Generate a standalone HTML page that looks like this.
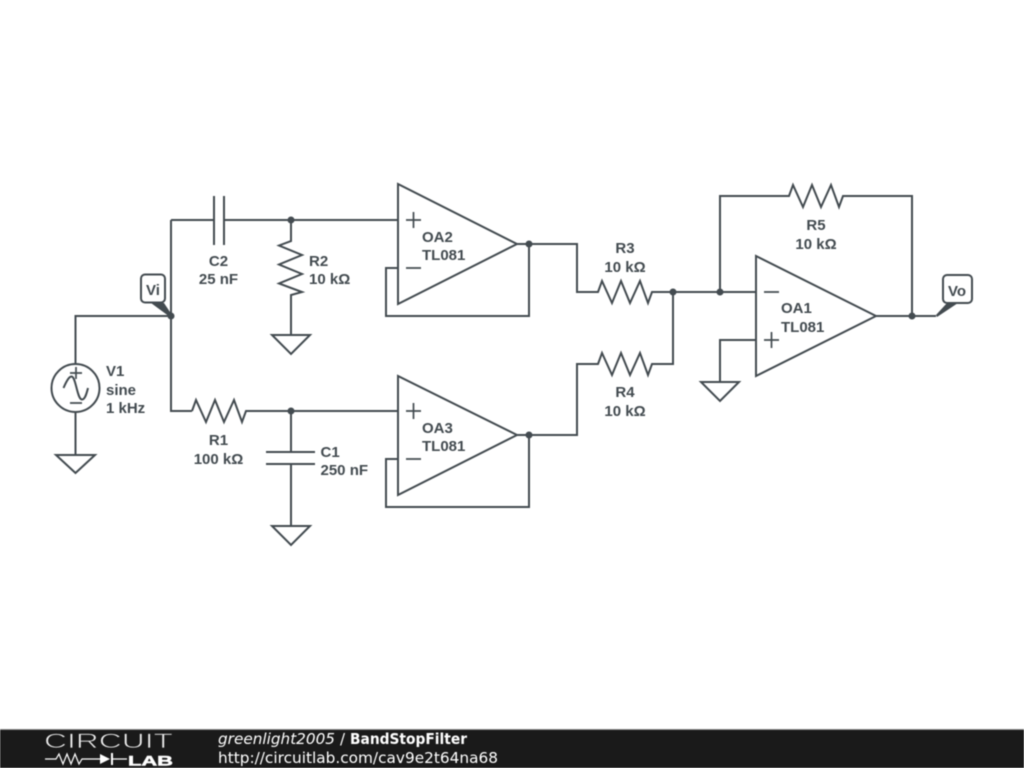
<!DOCTYPE html>
<html>
<head>
<meta charset="utf-8">
<style>
html,body{margin:0;padding:0;background:#fff;width:1024px;height:768px;overflow:hidden}
svg{display:block;filter:blur(.4px)}
.w{fill:none;stroke:#434b50;stroke-width:2;stroke-linejoin:miter}
.s{stroke-width:1.7}
.t{font-family:"Liberation Sans",sans-serif;font-size:15px;font-weight:bold;fill:#434b50}
.m{text-anchor:middle}
.d{fill:#434b50}
.f{font-family:"DejaVu Sans",sans-serif;font-size:15px;fill:#fff}
</style>
</head>
<body>
<svg width="1024" height="768" viewBox="0 0 1024 768" xmlns="http://www.w3.org/2000/svg">
<rect width="1024" height="768" fill="#fff"/>
<g class="w">
<!-- V1 -->
<circle cx="75.5" cy="388" r="24"/>
<path d="M75.5 364V316H171M75.5 412V455"/>
<path d="M56 455H95L75.5 473Z"/>
<path class="s" d="M70 373H82M76 367V379M70 403H82"/>
<path d="M63.500 388C66.500 381 69 376.500 71.500 376.500C76 376.500 77 399.500 82 399.500C85 399.500 86.500 394 88 388"/>
<!-- input bus -->
<path d="M171 220V411H192"/>
<path d="M171 220H214M224 220H398"/>
<path d="M214 196V245M224 196V245"/>
<!-- R2 -->
<path d="M291 220V241L279 245.500L302 255L279 264.500L302 274L279 283.500L302 292L291 295V335"/>
<path d="M272 335H310L291 354Z"/>
<!-- R1 -->
<path d="M192 411L196 400L206 422L215 400L224 422L234 400L242 422L246 411H398"/>
<!-- C1 -->
<path d="M291 411V452M266 452H315M266 464H315M291 464V526"/>
<path d="M272 526H310L291 545Z"/>
<!-- OA2 -->
<path d="M398 184V304L517 244Z"/>
<path class="s" d="M406 220H421M413.500 212V228M406 268H421"/>
<path d="M398 268H386V316H529V244"/>
<path d="M517 244H577V292H598L602 281L612 303L621 281L630 303L640 281L648 303L652 292H756"/>
<!-- OA3 -->
<path d="M398 376V495L517 435Z"/>
<path class="s" d="M406 411H421M413.500 403V419M406 459H421"/>
<path d="M398 459H386V507H529V435"/>
<path d="M517 435H577V364H598L602 353L612 375L621 353L630 375L640 353L648 375L652 364H673V292"/>
<!-- OA1 -->
<path d="M756 256V376L876 316Z"/>
<path class="s" d="M764 292H779M764 340H779M771.500 332V348"/>
<path d="M756 340H720V382"/>
<path d="M701 382H739L720 401Z"/>
<path d="M720 292V196H789L793 185L803 207L812 185L821 207L831 185L839 207L843 196H912V316"/>
<path d="M876 316H936"/>
<!-- probes -->
<rect x="141" y="274.500" width="24" height="28" rx="4" fill="#fff"/>
<rect x="943" y="275" width="29" height="28" rx="4" fill="#fff"/>
</g>
<polygon class="d" points="151,303 164,303 172,315 170,317"/>
<polygon class="d" points="936,315 947,303 958,303 937,317"/>
<circle class="d" cx="171" cy="316" r="3.500"/>
<circle class="d" cx="291" cy="220" r="3.500"/>
<circle class="d" cx="291" cy="411" r="3.500"/>
<circle class="d" cx="529" cy="244" r="3.500"/>
<circle class="d" cx="529" cy="435" r="3.500"/>
<circle class="d" cx="673" cy="292" r="3.500"/>
<circle class="d" cx="720" cy="292" r="3.500"/>
<circle class="d" cx="912" cy="316" r="3.500"/>

<text class="t m" x="153" y="295">Vi</text>
<text class="t m" x="957" y="296">Vo</text>
<text class="t" x="106" y="376">V1</text>
<text class="t" x="106" y="395">sine</text>
<text class="t" x="106" y="413">1 kHz</text>
<text class="t m" x="218.500" y="266">C2</text>
<text class="t m" x="218.500" y="284">25 nF</text>
<text class="t" x="309" y="266">R2</text>
<text class="t" x="309" y="284">10 kΩ</text>
<text class="t m" x="218.500" y="445">R1</text>
<text class="t m" x="218.500" y="464">100 kΩ</text>
<text class="t" x="320.500" y="457">C1</text>
<text class="t" x="320.500" y="475">250 nF</text>
<text class="t" x="422" y="242">OA2</text>
<text class="t" x="422" y="260">TL081</text>
<text class="t" x="422" y="433">OA3</text>
<text class="t" x="422" y="451">TL081</text>
<text class="t m" x="625" y="253">R3</text>
<text class="t m" x="625" y="272">10 kΩ</text>
<text class="t m" x="625" y="397">R4</text>
<text class="t m" x="625" y="416">10 kΩ</text>
<text class="t m" x="816" y="230">R5</text>
<text class="t m" x="816" y="249">10 kΩ</text>
<text class="t" x="781" y="313">OA1</text>
<text class="t" x="781" y="332">TL081</text>

<!-- footer -->
<rect x="0" y="729" width="1024" height="39" fill="#1a1a1a"/>
<rect x="0" y="729" width="1024" height="1" fill="#8a8a8a"/>
<text x="44" y="748" font-family="Liberation Sans, sans-serif" font-size="21" fill="#eee" stroke="#1a1a1a" stroke-width=".7" textLength="129" lengthAdjust="spacingAndGlyphs">CIRCUIT</text>
<path d="M45 759H56L59 754L63 764L67 754L71 764L75 754L79 764L82 759H100M112 759H127" fill="none" stroke="#fff" stroke-width="1.2"/>
<path d="M100 754L110 759L100 764Z" fill="#fff"/>
<path d="M112 753V765" stroke="#fff" stroke-width="2"/>
<text x="128" y="765.500" font-family="Liberation Sans, sans-serif" font-size="14" font-weight="bold" fill="#fff" stroke="#fff" stroke-width=".5" textLength="45" lengthAdjust="spacingAndGlyphs">LAB</text>
<text class="f" x="218" y="744" font-style="italic" textLength="117" lengthAdjust="spacingAndGlyphs">greenlight2005</text>
<text class="f" x="340" y="744">/</text>
<text class="f" x="350" y="744" font-weight="bold" textLength="117" lengthAdjust="spacingAndGlyphs">BandStopFilter</text>
<text class="f" x="218" y="763" textLength="280" lengthAdjust="spacingAndGlyphs">http://circuitlab.com/cav9e2t64na68</text>
</svg>
</body>
</html>
